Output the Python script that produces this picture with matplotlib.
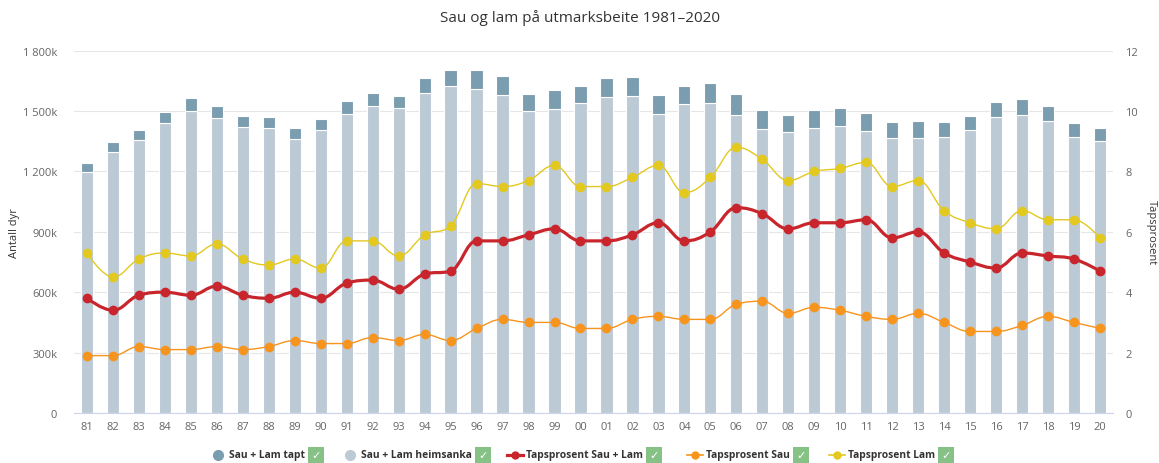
import matplotlib
matplotlib.use('Agg')
import matplotlib.pyplot as plt
from matplotlib.path import Path
from matplotlib.patches import PathPatch
from matplotlib.lines import Line2D

plt.rcParams['font.family'] = ['Open Sans', 'DejaVu Sans']

# data
years = ['81', '82', '83', '84', '85', '86', '87', '88', '89', '90',
         '91', '92', '93', '94', '95', '96', '97', '98', '99', '00',
         '01', '02', '03', '04', '05', '06', '07', '08', '09', '10',
         '11', '12', '13', '14', '15', '16', '17', '18', '19', '20']
heimsanka = [1196, 1298, 1356, 1439, 1502, 1465, 1419, 1414, 1361, 1407,
             1484, 1523, 1514, 1590, 1626, 1610, 1580, 1500, 1512, 1538,
             1571, 1575, 1484, 1533, 1540, 1480, 1411, 1394, 1414, 1424,
             1399, 1366, 1366, 1369, 1406, 1470, 1480, 1451, 1369, 1351]
totalt = [1244, 1345, 1406, 1495, 1563, 1525, 1474, 1469, 1417, 1460,
          1550, 1590, 1576, 1662, 1706, 1706, 1672, 1585, 1606, 1624,
          1662, 1671, 1581, 1624, 1638, 1585, 1504, 1482, 1504, 1515,
          1490, 1444, 1452, 1444, 1474, 1547, 1560, 1525, 1439, 1414]
tapt = [t - h for t, h in zip(totalt, heimsanka)]
pst_sau_lam = [3.8, 3.4, 3.9, 4.0, 3.9, 4.2, 3.9, 3.8, 4.0, 3.8,
               4.3, 4.4, 4.1, 4.6, 4.7, 5.7, 5.7, 5.9, 6.1, 5.7,
               5.7, 5.9, 6.3, 5.7, 6.0, 6.8, 6.6, 6.1, 6.3, 6.3,
               6.4, 5.8, 6.0, 5.3, 5.0, 4.8, 5.3, 5.2, 5.1, 4.7]
pst_sau = [1.9, 1.9, 2.2, 2.1, 2.1, 2.2, 2.1, 2.2, 2.4, 2.3,
           2.3, 2.5, 2.4, 2.6, 2.4, 2.8, 3.1, 3.0, 3.0, 2.8,
           2.8, 3.1, 3.2, 3.1, 3.1, 3.6, 3.7, 3.3, 3.5, 3.4,
           3.2, 3.1, 3.3, 3.0, 2.7, 2.7, 2.9, 3.2, 3.0, 2.8]
pst_lam = [5.3, 4.5, 5.1, 5.3, 5.2, 5.6, 5.1, 4.9, 5.1, 4.8,
           5.7, 5.7, 5.2, 5.9, 6.2, 7.6, 7.5, 7.7, 8.2, 7.5,
           7.5, 7.8, 8.2, 7.3, 7.8, 8.8, 8.4, 7.7, 8.0, 8.1,
           8.3, 7.5, 7.7, 6.7, 6.3, 6.1, 6.7, 6.4, 6.4, 5.8]
left_ticks = [0, 300, 600, 900, 1200, 1500, 1800]
left_labels = ['0', '300k', '600k', '900k', '1 200k', '1 500k', '1 800k']
right_ticks = [0, 2, 4, 6, 8, 10, 12]

c_tapt = '#7b9db0'
c_heim = '#bccad5'
c_red = '#c8262c'
c_orange = '#f7941d'
c_yellow = '#e3c820'
c_text = '#666666'


def spline_path(xs, ys):
    # highcharts-lignande spline gjennom punkta
    sm = 1.5
    den = sm + 1
    n = len(xs)
    lc = [(x, y) for x, y in zip(xs, ys)]
    rc = [(x, y) for x, y in zip(xs, ys)]
    for i in range(1, n - 1):
        px, py = xs[i], ys[i]
        lx, ly = xs[i - 1], ys[i - 1]
        nx, ny = xs[i + 1], ys[i + 1]
        lcx = (sm * px + lx) / den
        lcy = (sm * py + ly) / den
        rcx = (sm * px + nx) / den
        rcy = (sm * py + ny) / den
        corr = (rcy - lcy) * (rcx - px) / (rcx - lcx) + py - rcy
        lcy += corr
        rcy += corr
        if lcy > ly and lcy > py:
            lcy = max(ly, py)
            rcy = 2 * py - lcy
        elif lcy < ly and lcy < py:
            lcy = min(ly, py)
            rcy = 2 * py - lcy
        if rcy > ny and rcy > py:
            rcy = max(ny, py)
            lcy = 2 * py - rcy
        elif rcy < ny and rcy < py:
            rcy = min(ny, py)
            lcy = 2 * py - rcy
        lc[i] = (lcx, lcy)
        rc[i] = (rcx, rcy)
    verts = [(xs[0], ys[0])]
    codes = [Path.MOVETO]
    for i in range(1, n):
        verts += [rc[i - 1], lc[i], (xs[i], ys[i])]
        codes += [Path.CURVE4] * 3
    return Path(verts, codes)


W, H = 1159, 464
fig = plt.figure(figsize=(W / 100, H / 100), dpi=100)
ax = fig.add_axes([0.0638, 0.1078, 0.8965, 0.7808])
x = list(range(len(years)))

ax.bar(x, [v * 1000 for v in heimsanka], width=0.47, color=c_heim,
       edgecolor='white', linewidth=0.8, zorder=2)
ax.bar(x, [v * 1000 for v in tapt], width=0.47, bottom=[v * 1000 for v in heimsanka],
       color=c_tapt, edgecolor='white', linewidth=0.8, zorder=2)

ax.set_xlim(-0.5, len(years) - 0.5)
ax.set_ylim(0, 1800000)
ax.set_yticks([v * 1000 for v in left_ticks])
ax.set_yticklabels(left_labels)
ax.set_xticks(x)
ax.set_xticklabels(years)
ax.grid(axis='y', color='#e6e6e6', linewidth=0.8)
ax.set_axisbelow(True)
for s in ['top', 'left', 'right']:
    ax.spines[s].set_visible(False)
ax.spines['bottom'].set_color('#ccd6eb')
ax.tick_params(axis='x', length=0, pad=6, labelsize=8, labelcolor=c_text)
ax.tick_params(axis='y', length=0, pad=12, labelsize=8, labelcolor=c_text)

ax2 = ax.twinx()
ax2.set_ylim(0, 12)
ax2.set_yticks(right_ticks)
for s in ['top', 'left', 'right', 'bottom']:
    ax2.spines[s].set_visible(False)
ax2.tick_params(axis='y', length=0, pad=9, labelsize=8, labelcolor=c_text)

# aksetitlar
fig.text(15 / W, 1 - 233 / H, 'Antall dyr', rotation=90, ha='center', va='center',
         fontsize=8, color='#333333')
fig.text(1151 / W, 1 - 233 / H, 'Tapsprosent', rotation=270, ha='center', va='center',
         fontsize=8, color='#333333')

for vals, col, lw in [(pst_lam, c_yellow, 1.0), (pst_sau, c_orange, 1.0),
                      (pst_sau_lam, c_red, 2.3)]:
    ax2.add_patch(PathPatch(spline_path(x, vals), facecolor='none', edgecolor=col,
                            linewidth=lw, zorder=3))
    ax2.plot(x, vals, linestyle='none', marker='o', markersize=6, color=col, zorder=4)

fig.text(0.5, 1 - 18 / H, 'Sau og lam på utmarksbeite 1981\u20132020', ha='center', va='center',
         fontsize=11, color='#333333')

# forklaring med avkryssingsboksar
legend_items = [('Sau + Lam tapt', c_tapt, 'bar', 218),
                ('Sau + Lam heimsanka', c_heim, 'bar', 350),
                ('Tapsprosent Sau + Lam', c_red, 'line', 515),
                ('Tapsprosent Sau', c_orange, 'line', 695),
                ('Tapsprosent Lam', c_yellow, 'line', 837)]
ly = 1 - 456 / H
renderer = fig.canvas.get_renderer()
for label, col, kind, px in legend_items:
    if kind == 'bar':
        fig.add_artist(Line2D([px / W], [ly], marker='o', markersize=7, color=col,
                              linestyle='none', transform=fig.transFigure))
    else:
        lw = 2.3 if col == c_red else 1.2
        fig.add_artist(Line2D([(px - 8) / W, (px + 8) / W], [ly, ly], color=col, linewidth=lw,
                              transform=fig.transFigure))
        fig.add_artist(Line2D([px / W], [ly], marker='o', markersize=5, color=col,
                              linestyle='none', transform=fig.transFigure))
    t = fig.text((px + 11) / W, ly, label, ha='left', va='center', fontsize=7.4,
                 fontweight='bold', color='#333333')
    bb = t.get_window_extent(renderer=renderer)
    fig.text(bb.x1 / W + 11 / W, ly, '\u2713', ha='center', va='center', fontsize=8,
             color='white', family=['DejaVu Sans'],
             bbox=dict(boxstyle='square,pad=0.3', facecolor='#86c286', edgecolor='none'))

fig.savefig('out.png', dpi=100)
